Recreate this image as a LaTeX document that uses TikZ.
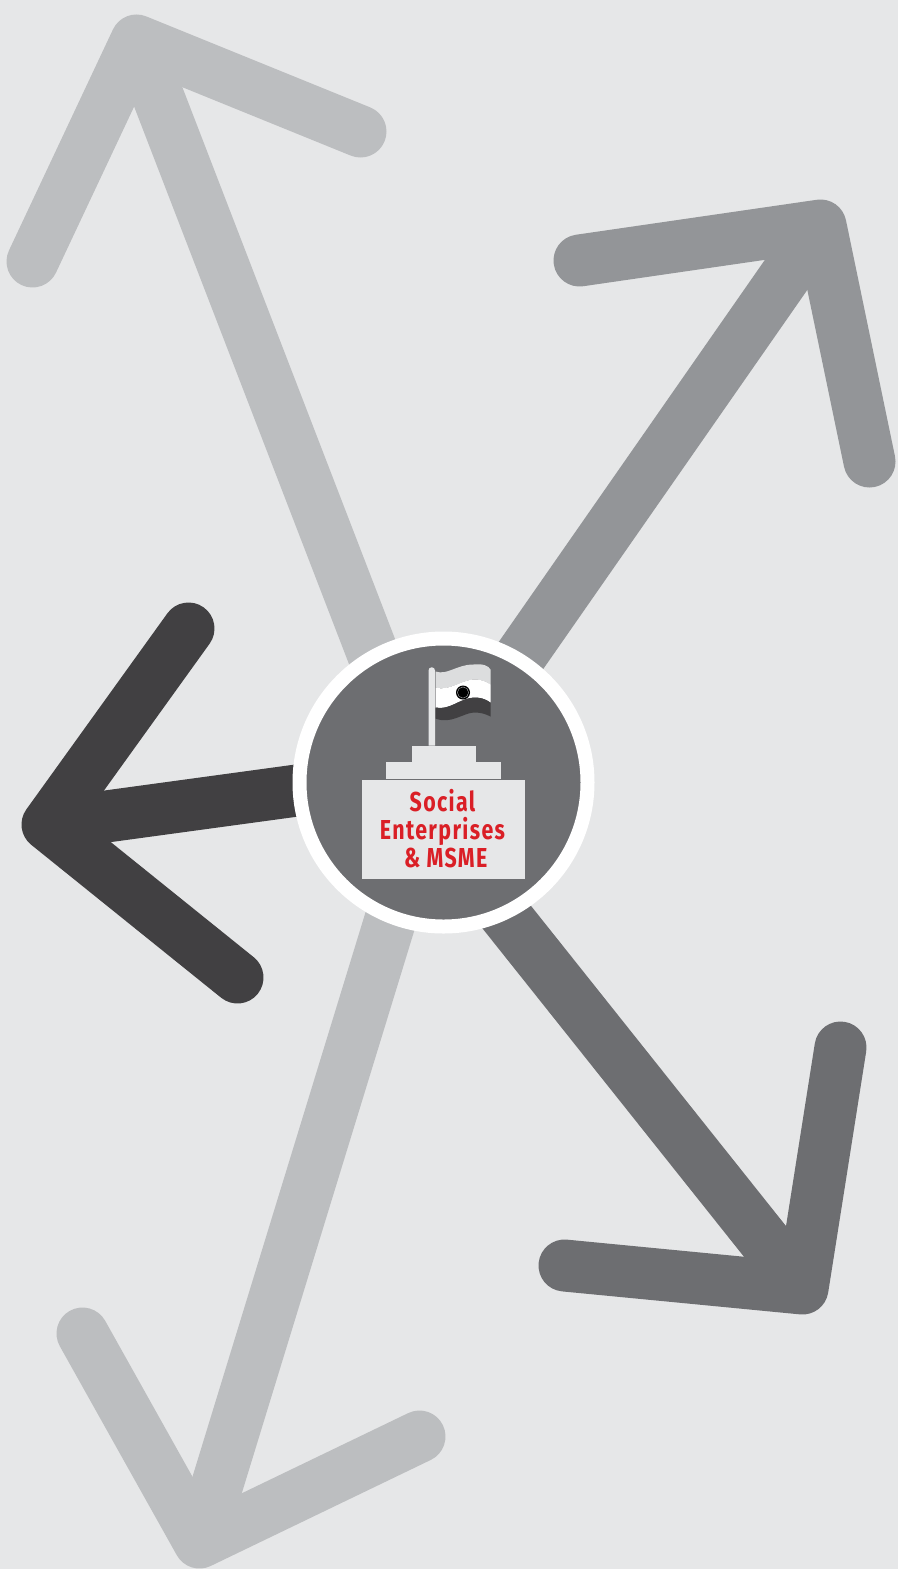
\documentclass[tikz,border=0pt]{standalone}
\usepackage{fontspec}
\newfontfamily\signfont[FakeStretch=0.78,LetterSpace=5]{Fira Sans Bold}
\definecolor{pagegrey}{HTML}{E6E7E8}
\definecolor{palegrey}{HTML}{BCBEC0}
\definecolor{flaggrey}{HTML}{DCDDDE}
\definecolor{midgrey}{HTML}{939598}
\definecolor{slategrey}{HTML}{6D6E71}
\definecolor{coalgrey}{HTML}{414042}
\definecolor{signred}{HTML}{DA1F26}
\tikzset{
    bigarrow/.style={
        line width=1.04cm,
        line cap=round,
        line join=round
    },
    shaft/.style={
        line width=1.04cm
    },
    plinth/.style={
        fill=pagegrey
    },
    signtext/.style={
        text=signred,
        align=center,
        inner sep=0pt,
        font=\signfont\fontsize{15.6}{15.9}\selectfont
    }
}
\begin{document}
\begin{tikzpicture}[x=0.02cm,y=-0.02cm]
    \useasboundingbox (-0.5,-0.5) rectangle (896.5,1568.5);
    \fill[pagegrey] (-5,-5) rectangle (905,1575);
    \coordinate (hub) at (443,782);
    \coordinate (startA) at (422,782);
    \coordinate (tipA) at (136,40);
    \coordinate (startB) at (432,782);
    \coordinate (tipB) at (820,225);
    \coordinate (startC) at (443,770);
    \coordinate (tipC) at (47,824);
    \coordinate (startD) at (399,782);
    \coordinate (tipD) at (802,1288);
    \coordinate (startE) at (432,782);
    \coordinate (tipE) at (199,1542);
    \draw[shaft, palegrey] (startA) -- (tipA);
    \draw[bigarrow, palegrey] (32,261) -- (tipA) -- (360,131);
    \draw[shaft, midgrey] (startB) -- (tipB);
    \draw[bigarrow, midgrey] (579,260) -- (tipB) -- (869,461);
    \draw[shaft, coalgrey] (startC) -- (tipC);
    \draw[bigarrow, coalgrey] (188,628) -- (tipC) -- (237,977);
    \draw[shaft, slategrey] (startD) -- (tipD);
    \draw[bigarrow, slategrey] (840,1047) -- (tipD) -- (564,1265);
    \draw[shaft, palegrey] (startE) -- (tipE);
    \draw[bigarrow, palegrey] (82,1333) -- (tipE) -- (419,1436);
    \fill[slategrey, draw=white, line width=0.28cm] (hub) circle (144);
    \fill[pagegrey] (428,745) -- (428,670) arc[start angle=180, end angle=360, radius=3.25] -- (434.5,745) -- cycle;
    \fill[flaggrey] (435,671) .. controls (447,675) and (456,664) .. (473,664)
        .. controls (482,663) and (488,665) .. (490,669) -- (490,684)
        .. controls (484,680) and (480,679) .. (473,679)
        .. controls (459,680) and (449,691) .. (435,687) -- cycle;
    \fill[white] (435,687) .. controls (449,691) and (459,680) .. (473,679)
        .. controls (480,679) and (484,680) .. (490,684) -- (490,702)
        .. controls (484,698) and (480,697) .. (473,697)
        .. controls (459,698) and (449,710) .. (435,707) -- cycle;
    \fill[coalgrey] (435,707) .. controls (449,710) and (459,698) .. (473,697)
        .. controls (480,697) and (484,698) .. (490,702) -- (490,716)
        .. controls (484,713) and (480,712) .. (473,712)
        .. controls (462,713) and (450,724) .. (435,718) -- cycle;
    \fill[black] (462.5,692) circle (7);
    \draw[palegrey, line width=0.2pt] (462.5,692) circle (5.6);
    \fill[plinth] (411.5,745) rectangle (475.5,761);
    \fill[plinth] (385.5,761) rectangle (500.5,778);
    \fill[plinth] (361.5,779) rectangle (524.5,878);
    \node[signtext] (signlabel) at (442,828) {Social\\Enterprises\\\ \& MSME};
\end{tikzpicture}
\end{document}
